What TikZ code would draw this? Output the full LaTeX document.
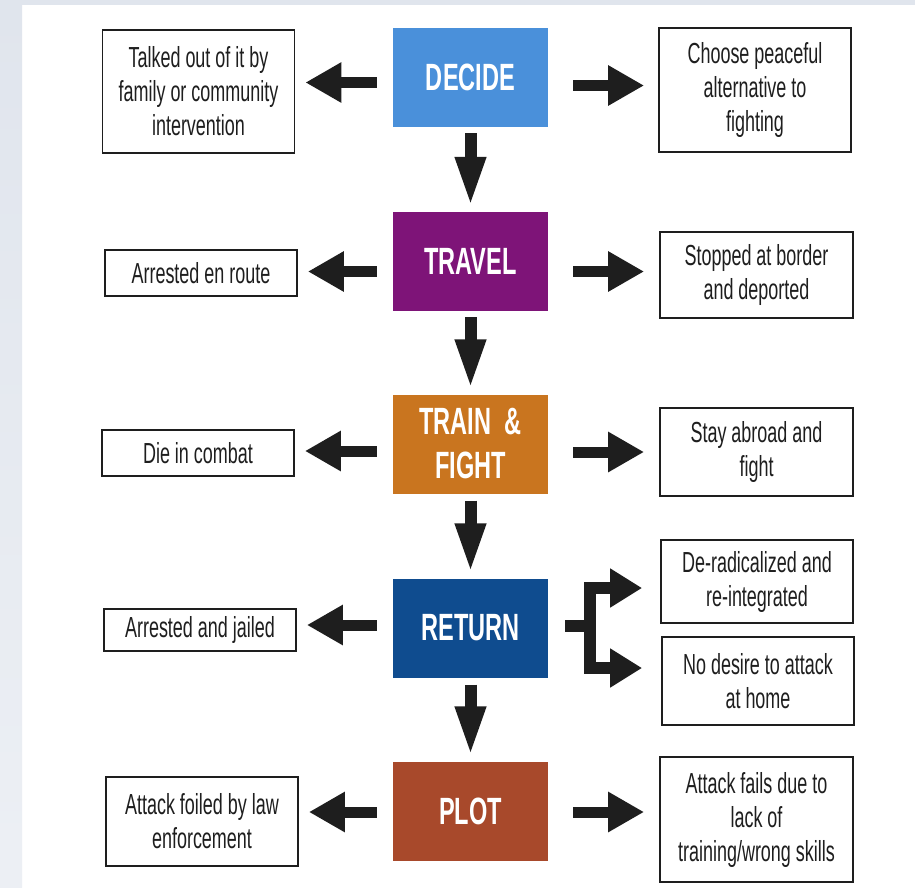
\documentclass[tikz,border=0pt]{standalone}
\usepackage{fontspec}
\setmainfont{Liberation Sans}[FakeStretch=0.62]
\usetikzlibrary{arrows.meta,calc}
\definecolor{bgstrip}{HTML}{E0E5ED}
\definecolor{cdecide}{HTML}{4A90DA}
\definecolor{ctravel}{HTML}{7E1478}
\definecolor{ctrain}{HTML}{C9751F}
\definecolor{creturn}{HTML}{0F4C8F}
\definecolor{cplot}{HTML}{A8492B}
\definecolor{ink}{HTML}{1E1E1E}
\tikzset{
  stage/.style={rectangle, inner sep=0pt, minimum width=155pt, minimum height=99pt,
    text=white, align=center, font=\fontsize{38}{44}\selectfont\bfseries},
  outcome/.style={rectangle, draw=ink, line width=1.8pt, inner sep=0pt, minimum width=192pt,
    text=ink, align=center, font=\fontsize{29}{34}\selectfont},
  harrow/.style={draw=ink, line width=11pt, -{Triangle[length=36pt,width=38pt]}},
  varrow/.style={draw=ink, line width=12pt, -{Triangle[length=50pt,width=28pt]}},
  barrow/.style={draw=ink, line width=12pt, line join=miter, -{Triangle[length=32pt,width=37pt]}},
  bline/.style={draw=ink, line width=12pt}
}
\begin{document}
\begin{tikzpicture}[x=1pt,y=-1pt]
\useasboundingbox (0,0) rectangle (915,887);
\fill[white] (0,0) rectangle (915,887);
\fill[top color=bgstrip, bottom color=bgstrip!60!white] (0,0) rectangle (22,887);
\fill[bgstrip] (0,0) rectangle (915,5);

% stages
\node[stage, fill=cdecide] (decide) at (470.5,77.5) {DECIDE};
\node[stage, fill=ctravel] (travel) at (470.5,261.5) {TRAVEL};
\node[stage, fill=ctrain]  (train)  at (470.5,444) {TRAIN~~\&\\FIGHT};
\node[stage, fill=creturn] (return) at (470.5,628) {RETURN};
\node[stage, fill=cplot]   (plot)   at (470.5,811) {PLOT};

% left outcomes
\node[outcome, minimum height=123pt] (l1) at (198.5,91.5) {Talked out of it by\\family or community\\intervention};
\node[outcome, minimum height=46pt]  (l2) at (201,273) {Arrested en route};
\node[outcome, minimum height=46pt]  (l3) at (198,453) {Die in combat};
\node[outcome, minimum height=42pt]  (l4) at (200,630) {Arrested and jailed};
\node[outcome, minimum height=89pt]  (l5) at (202,821.5) {Attack foiled by law\\enforcement};

% right outcomes
\node[outcome, minimum height=124pt] (r1) at (755,90) {Choose peaceful\\alternative to\\fighting};
\node[outcome, minimum height=86pt, minimum width=193pt]  (r2) at (756.5,275) {Stopped at border\\and deported};
\node[outcome, minimum height=88pt, minimum width=193pt]  (r3) at (756.5,452) {Stay abroad and\\fight};
\node[outcome, minimum height=83pt]  (r4) at (757,581.5) {De-radicalized and\\re-integrated};
\node[outcome, minimum height=88pt]  (r5) at (758,681) {No desire to attack\\at home};
\node[outcome, minimum height=125pt, minimum width=193pt] (r6) at (756.5,819.5) {Attack fails due to\\lack of\\training/wrong skills};

% left arrows
\draw[harrow, shorten >=10pt] ([shift={(-16,5)}]decide.west) coordinate (a1) -- (a1 -| l1.east);
\draw[harrow, shorten >=10pt] ([shift={(-16,10)}]travel.west) coordinate (a2) -- (a2 -| l2.east);
\draw[harrow, shorten >=10pt] ([shift={(-16,7)}]train.west) coordinate (a3) -- (a3 -| l3.east);
\draw[harrow, shorten >=10pt] ([shift={(-16,-3)}]return.west) coordinate (a4) -- (a4 -| l4.east);
\draw[harrow, shorten >=10pt] ([shift={(-16,1)}]plot.west) coordinate (a5) -- (a5 -| l5.east);

% right arrows
\draw[harrow, shorten >=14pt] ([shift={(25,8)}]decide.east) coordinate (b1) -- (b1 -| r1.west);
\draw[harrow, shorten >=15pt] ([shift={(25,10)}]travel.east) coordinate (b2) -- (b2 -| r2.west);
\draw[harrow, shorten >=15pt] ([shift={(25,8)}]train.east) coordinate (b3) -- (b3 -| r3.west);
\draw[harrow, shorten >=15pt] ([shift={(25,1)}]plot.east) coordinate (b5) -- (b5 -| r6.west);

% down arrows
\draw[varrow, shorten >=5pt] ([yshift=-6pt]decide.south) -- (travel.north);
\draw[varrow, shorten >=5pt] ([yshift=-6pt]travel.south) -- (train.north);
\draw[varrow, shorten >=5pt] ([yshift=-7pt]train.south) -- (return.north);
\draw[varrow, shorten >=5pt] ([yshift=-7pt]return.south) -- (plot.north);

% return branch
\coordinate (bj) at ([shift={(42,-2)}]return.east);
\draw[bline] ([shift={(17,-2)}]return.east) -- (bj);
\draw[barrow] (bj) |- ([shift={(-18,6.5)}]r4.west);
\draw[barrow] (bj) |- ([shift={(-19,-13)}]r5.west);
\end{tikzpicture}
\end{document}
